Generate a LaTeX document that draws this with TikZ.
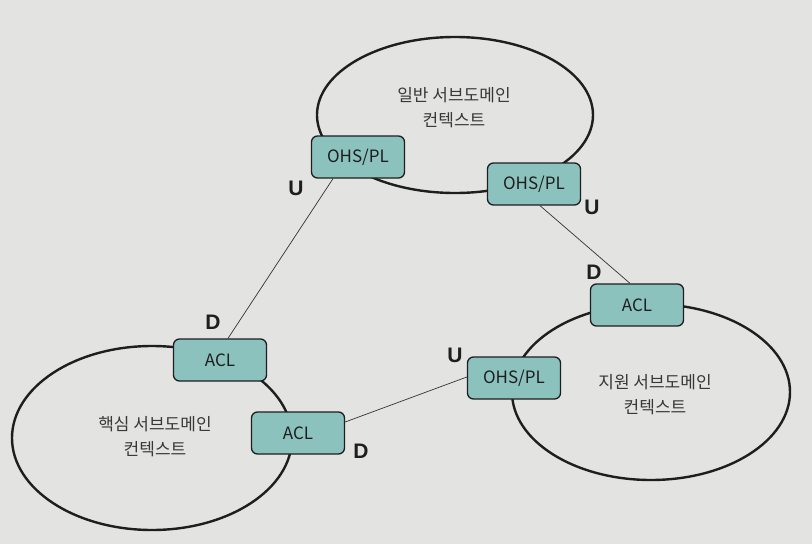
\documentclass[tikz,border=0pt]{standalone}
\usepackage{fontspec}
\setmainfont{Noto Sans CJK KR}
\newfontfamily\sidefont{Liberation Sans}
\usetikzlibrary{shapes.geometric,calc}
\definecolor{paper}{HTML}{E3E3E1}
\definecolor{boxfill}{HTML}{8CC2BE}
\definecolor{ink}{HTML}{1E1E1E}
\begin{document}
\begin{tikzpicture}[x=1pt,y=-1pt,
  context/.style={ellipse, draw=ink, line width=2.4pt, inner sep=0pt, outer sep=0pt},
  ctxlabel/.style={align=center, text=black!78, font=\fontsize{17}{25}\selectfont},
  port/.style={draw=ink, fill=boxfill, line width=1.3pt, rounded corners=6pt,
    minimum width=93pt, minimum height=42pt, inner sep=0pt,
    font=\fontsize{17}{18}\selectfont, text=ink},
  link/.style={draw=black!80, line width=0.7pt},
  side/.style={font=\sidefont\bfseries\fontsize{21}{22}\selectfont, text=ink}
]
% page
\fill[paper] (0,0) rectangle (812,544);
\useasboundingbox (0,0) rectangle (812,544);

% bounded contexts
\node[context, minimum width=276pt, minimum height=156pt] (general) at (455,115) {};
\node[context, minimum width=280pt, minimum height=184pt] (core) at (152,438) {};
\node[context, minimum width=278pt, minimum height=176pt] (support) at (651,392) {};

\node[ctxlabel] (generalText) at (454,108) {일반 서브도메인\\컨텍스트};
\node[ctxlabel] (coreText) at (155,437) {핵심 서브도메인\\컨텍스트};
\node[ctxlabel] (supportText) at (655,395) {지원 서브도메인\\컨텍스트};

% integration ports
\node[port] (ohsGenA) at (358,157) {OHS/PL};
\node[port] (ohsGenB) at (534,184) {OHS/PL};
\node[port] (aclCoreA) at (220,360) {ACL};
\node[port] (aclCoreB) at (298,433) {ACL};
\node[port] (aclSup) at (637,305) {ACL};
\node[port] (ohsSup) at (514,378) {OHS/PL};

% relationships
\draw[link] ($(ohsGenA.south)+(-25,0)$) -- ($(aclCoreA.north)+(8,0)$);
\draw[link] ($(ohsGenB.south)+(6,0)$) -- ($(aclSup.north)+(-7,0)$);
\draw[link] ($(aclCoreB.east)+(0,-11)$) -- ($(ohsSup.west)+(0,-1)$);

% upstream / downstream marks
\node[side] (upA) at (296,188) {U};
\node[side] (upB) at (592,207) {U};
\node[side] (downB) at (594,272) {D};
\node[side] (downA) at (213,322) {D};
\node[side] (upC) at (455,355) {U};
\node[side] (downC) at (361,451) {D};
\end{tikzpicture}
\end{document}
